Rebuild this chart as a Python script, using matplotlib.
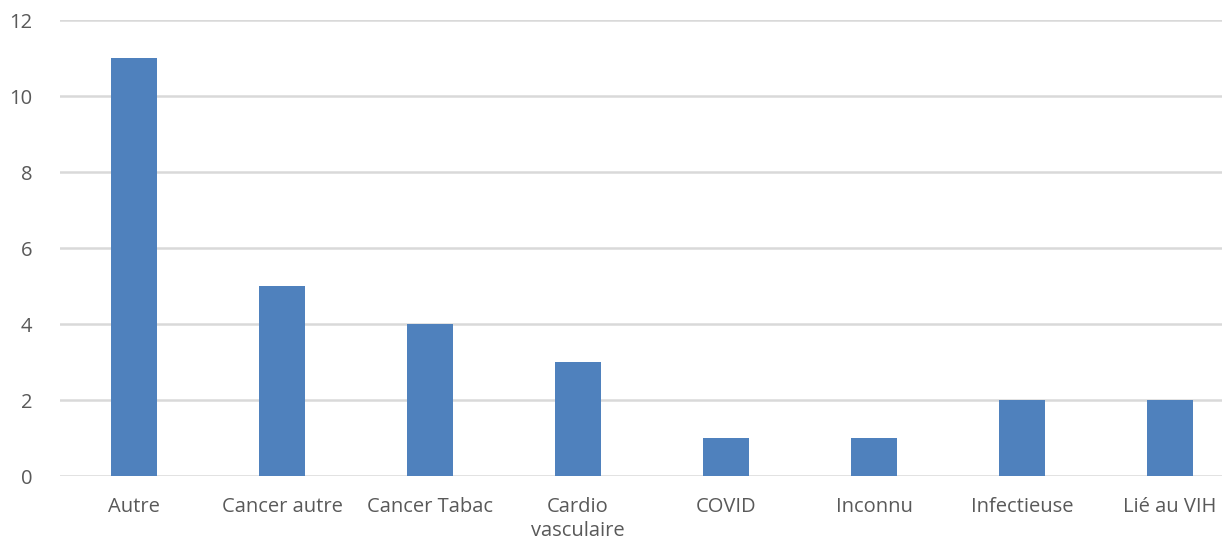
import matplotlib.pyplot as plt

plt.rcParams['font.family'] = ['Open Sans', 'DejaVu Sans']

categories = ['Autre', 'Cancer autre', 'Cancer Tabac', 'Cardio\nvasculaire',
              'COVID', 'Inconnu', 'Infectieuse', 'Lié au VIH']
values = [11, 5, 4, 3, 1, 1, 2, 2]
y_ticks = [0, 2, 4, 6, 8, 10, 12]

fig = plt.figure(figsize=(12.22, 5.43), dpi=100)
# plot area runs past the right edge like the cropped original
ax = fig.add_axes([60 / 1222, 67 / 543, 1184 / 1222, 456 / 543])

x = range(len(categories))
ax.bar(x, values, width=0.31, color='#4f81bd', zorder=3)

ax.set_xlim(-0.5, len(categories) - 0.5)
ax.set_ylim(0, 12)
ax.set_yticks(y_ticks)
ax.set_xticks(list(x))
ax.set_xticklabels(categories, fontsize=14.5, color='#595959', linespacing=1.3)
ax.tick_params(axis='y', labelsize=14.5, labelcolor='#595959', length=0, pad=20)
ax.tick_params(axis='x', length=0, pad=15)
ax.grid(axis='y', color='#d9d9d9', linewidth=1.8, zorder=0)
for s in ax.spines.values():
    s.set_visible(False)

fig.savefig('out.png', dpi=100)
